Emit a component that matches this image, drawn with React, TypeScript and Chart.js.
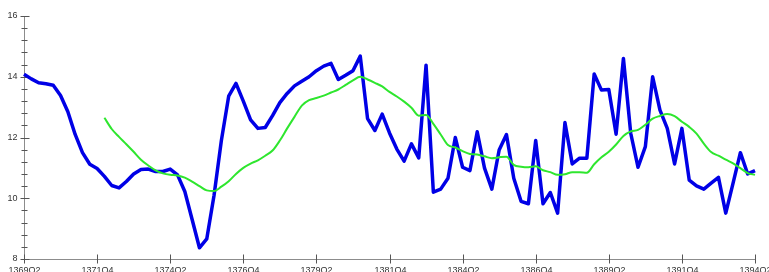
import React, { useEffect, useRef } from "react";
import { Chart, registerables } from "chart.js";

Chart.register(...registerables);

// Quarterly categories 1369Q2 .. 1394Q2
const quarters: string[] = (() => {
  const out: string[] = [];
  let yr = 1369;
  let q = 2;
  for (let i = 0; i < 101; i++) {
    out.push(`${yr}Q${q}`);
    q++;
    if (q > 4) {
      q = 1;
      yr++;
    }
  }
  return out;
})();

const xTickLabels = [
  "1369Q2", "1371Q4", "1374Q2", "1376Q4", "1379Q2", "1381Q4",
  "1384Q2", "1386Q4", "1389Q2", "1391Q4", "1394Q2",
];

const yMajorTicks = [8, 10, 12, 14, 16];
const yMin = 8;
const yMax = 16;
const yMinorStep = 0.4;

const seriesActual: number[] = [
  14.08, 13.93, 13.8, 13.77, 13.72, 13.38, 12.85, 12.1, 11.5, 11.12,
  10.98, 10.72, 10.42, 10.34, 10.55, 10.8, 10.95, 10.96, 10.88, 10.88,
  10.96, 10.77, 10.22, 9.3, 8.37, 8.66, 10.1, 11.9, 13.36, 13.78,
  13.2, 12.58, 12.3, 12.33, 12.72, 13.15, 13.45, 13.7, 13.85, 14.0,
  14.2, 14.35, 14.44, 13.91, 14.05, 14.2, 14.68, 12.62, 12.23, 12.77,
  12.15, 11.62, 11.22, 11.79, 11.33, 14.38, 10.2, 10.3, 10.66, 12.0,
  11.02, 10.91, 12.19, 10.99, 10.3, 11.59, 12.1, 10.66, 9.9, 9.82,
  11.9, 9.82, 10.19, 9.51, 12.49, 11.13, 11.32, 11.32, 14.09, 13.56,
  13.58, 12.11, 14.6, 12.14, 11.02, 11.7, 14.0, 12.9, 12.3, 11.13,
  12.3, 10.6, 10.41, 10.3, 10.5, 10.69, 9.51, 10.5, 11.5, 10.8,
  10.91,
];

const seriesTrend: (number | null)[] = [
  null, null, null, null, null, null, null, null, null, null,
  null, 12.65, 12.28, 12.02, 11.78, 11.53, 11.27, 11.08, 10.92, 10.82,
  10.77, 10.75, 10.68, 10.55, 10.4, 10.26, 10.24, 10.38, 10.56, 10.8,
  11.0, 11.14, 11.25, 11.4, 11.57, 11.9, 12.3, 12.68, 13.05, 13.23,
  13.3, 13.38, 13.48, 13.58, 13.73, 13.88, 14.0, 13.91, 13.8, 13.68,
  13.5, 13.35, 13.18, 12.98, 12.72, 12.74, 12.45, 12.1, 11.75, 11.67,
  11.55, 11.46, 11.44, 11.38, 11.32, 11.35, 11.37, 11.1, 11.04, 11.02,
  11.05, 10.92, 10.86, 10.77, 10.79, 10.86, 10.86, 10.84, 11.12, 11.35,
  11.53, 11.77, 12.05, 12.2, 12.25, 12.42, 12.62, 12.71, 12.77, 12.7,
  12.52, 12.35, 12.13, 11.8, 11.52, 11.4, 11.27, 11.15, 10.99, 10.83,
  10.77,
];

const axesPlugin = {
  id: "customAxes",
  beforeDatasetsDraw(chart: any) {
    const { ctx, chartArea, scales } = chart;
    const xs = scales.x;
    const ys = scales.y;
    const left = Math.round(chartArea.left) + 0.5;
    const right = Math.round(chartArea.right) + 0.5;
    const top = Math.round(chartArea.top) + 0.5;
    const bottom = Math.round(chartArea.bottom) + 0.5;
    ctx.save();
    ctx.strokeStyle = "#8c8c8c";
    ctx.lineWidth = 1;
    // axis lines
    ctx.beginPath();
    ctx.moveTo(left, top);
    ctx.lineTo(left, bottom);
    ctx.lineTo(right, bottom);
    ctx.stroke();
    // y minor ticks
    ctx.strokeStyle = "#555";
    const nMinor = Math.round((yMax - yMin) / yMinorStep);
    for (let i = 0; i <= nMinor; i++) {
      const v = yMin + i * yMinorStep;
      const py = Math.round(ys.getPixelForValue(v)) + 0.5;
      const isMajor = yMajorTicks.some((t) => Math.abs(t - v) < 1e-6);
      ctx.beginPath();
      if (isMajor) {
        ctx.moveTo(left - 4, py);
        ctx.lineTo(left + 5, py);
      } else {
        ctx.moveTo(left - 3, py);
        ctx.lineTo(left + 3, py);
      }
      ctx.stroke();
    }
    // y labels
    ctx.fillStyle = "#333";
    ctx.font = "9px 'Liberation Sans', Arial, sans-serif";
    ctx.textAlign = "right";
    ctx.textBaseline = "middle";
    yMajorTicks.forEach((t) => {
      const py = ys.getPixelForValue(t);
      ctx.fillText(String(t), left - 7, py);
    });
    // x ticks and labels
    ctx.textAlign = "center";
    ctx.textBaseline = "top";
    xTickLabels.forEach((lab) => {
      const idx = quarters.indexOf(lab);
      const px = Math.round(xs.getPixelForValue(idx)) + 0.5;
      ctx.beginPath();
      ctx.moveTo(px, bottom - 5);
      ctx.lineTo(px, bottom + 4);
      ctx.stroke();
      ctx.fillText(lab, px, bottom + 7);
    });
    ctx.restore();
  },
};

export default function App() {
  const canvasRef = useRef<HTMLCanvasElement | null>(null);

  useEffect(() => {
    const prevMargin = document.body.style.margin;
    document.body.style.margin = "0";
    const canvas = canvasRef.current;
    if (!canvas) return;
    const chart = new Chart(canvas, {
      type: "line",
      data: {
        labels: quarters,
        datasets: [
          {
            label: "trend",
            data: seriesTrend,
            borderColor: "#2ee62e",
            borderWidth: 2,
            pointRadius: 0,
            fill: false,
            tension: 0.4,
            cubicInterpolationMode: "monotone",
            spanGaps: false,
            order: 0,
            clip: false,
          },
          {
            label: "actual",
            data: seriesActual,
            borderColor: "#0000e6",
            borderWidth: 3.5,
            pointRadius: 0,
            fill: false,
            tension: 0,
            borderJoinStyle: "round",
            order: 1,
            clip: false,
          },
        ],
      },
      options: {
        responsive: false,
        maintainAspectRatio: false,
        animation: false,
        devicePixelRatio: 1,
        layout: { padding: { left: 24, right: 14, top: 16, bottom: 13 } },
        plugins: {
          legend: { display: false },
          tooltip: { enabled: false },
          title: { display: false },
        },
        scales: {
          x: { type: "category", display: false, offset: false },
          y: { type: "linear", display: false, min: yMin, max: yMax },
        },
      },
      plugins: [axesPlugin],
    });
    return () => {
      chart.destroy();
      document.body.style.margin = prevMargin;
    };
  }, []);

  return (
    <div style={{ position: "fixed", left: 0, top: 0, width: 769, height: 272, background: "#fff" }}>
      <canvas ref={canvasRef} width={769} height={272} style={{ display: "block", width: 769, height: 272 }} />
    </div>
  );
}
